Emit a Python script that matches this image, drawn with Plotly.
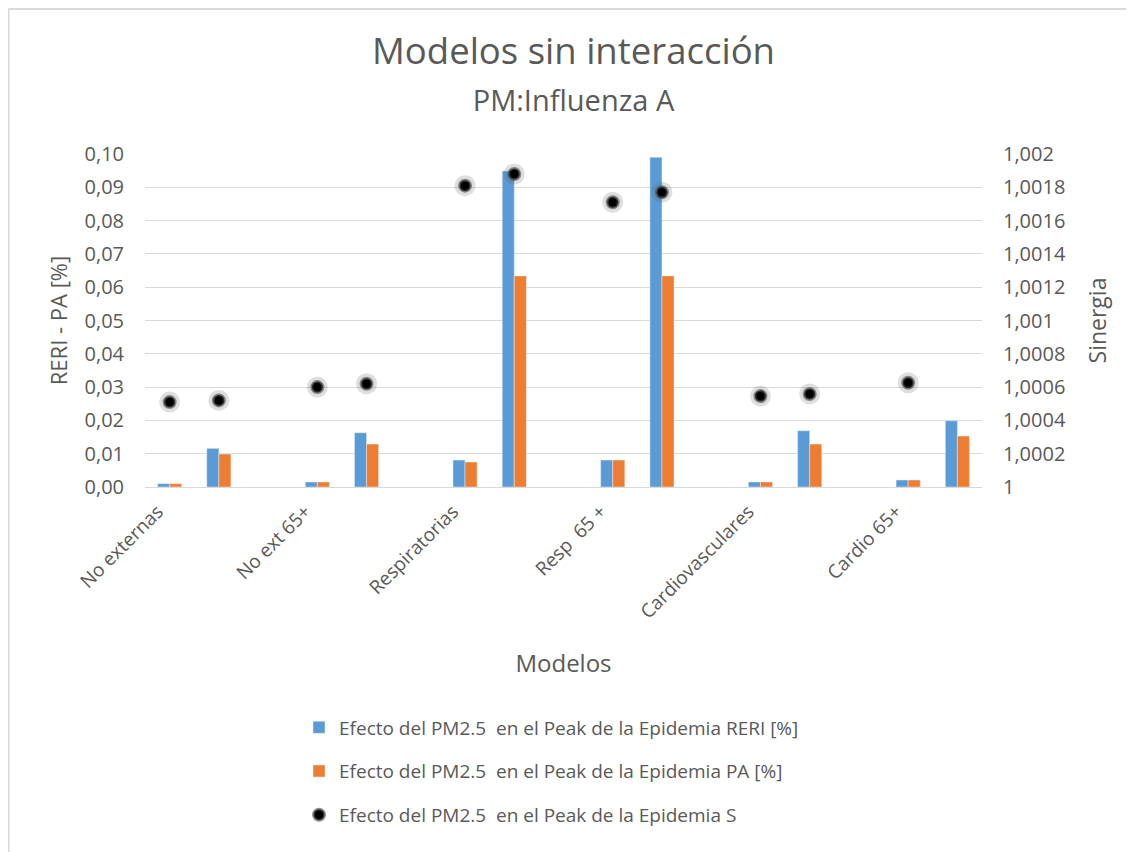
import plotly.graph_objects as go

# ---- data ----
models = ["No externas", "No ext 65+", "Respiratorias", "Resp  65 +", "Cardiovasculares", "Cardio 65+"]
# 17 slots: for each model two bars (first, second) and an empty spacer slot
reri = [0.0010, 0.0116, None, 0.0015, 0.0163, None, 0.0081, 0.0949, None,
        0.0081, 0.0990, None, 0.0015, 0.0169, None, 0.0021, 0.0199]
pa = [0.0010, 0.0099, None, 0.0015, 0.0129, None, 0.0075, 0.0634, None,
      0.0081, 0.0634, None, 0.0015, 0.0129, None, 0.0021, 0.0153]
sinergia = [1.00051, 1.00052, None, 1.00060, 1.00062, None, 1.00181, 1.00188, None,
            1.00171, 1.00177, None, 1.000546, 1.000559, None, 1.000626, None]
left_ticks = [0.00, 0.01, 0.02, 0.03, 0.04, 0.05, 0.06, 0.07, 0.08, 0.09, 0.10]
right_tickvals = [1, 1.0002, 1.0004, 1.0006, 1.0008, 1.001, 1.0012, 1.0014, 1.0016, 1.0018, 1.002]
right_ticktext = ["1", "1,0002", "1,0004", "1,0006", "1,0008", "1,001", "1,0012", "1,0014", "1,0016", "1,0018", "1,002"]

labels = [
    "Efecto del PM2.5  en el Peak de la Epidemia RERI [%]",
    "Efecto del PM2.5  en el Peak de la Epidemia PA [%]",
    "Efecto del PM2.5  en el Peak de la Epidemia S",
]

slots = list(range(len(reri)))
tick_slots = slots[::3]

FONT = "Open Sans"
GREY = "#595959"

fig = go.Figure()
fig.add_trace(go.Bar(x=slots, y=reri, name=labels[0], marker_color="#5B9BD5",
                     legendgroup="a"))
fig.add_trace(go.Bar(x=slots, y=pa, name=labels[1], marker_color="#ED7D31",
                     legendgroup="b"))
# soft glow under the dots
fig.add_trace(go.Scatter(x=slots, y=sinergia, mode="markers", yaxis="y2",
                         marker=dict(size=21, color="rgba(90,90,90,0.2)", line=dict(width=0)),
                         showlegend=False, legendgroup="c", hoverinfo="skip"))
fig.add_trace(go.Scatter(x=slots, y=sinergia, mode="markers", yaxis="y2", name=labels[2],
                         marker=dict(size=11, color="black",
                                     line=dict(width=3, color="rgba(70,70,70,0.6)")),
                         legendgroup="c"))

W, H = 1126, 844  # page adds an 8px body margin
L, R, T, B = 137, 152, 146, 365
PW, PH = W - L - R, H - T - B

fig.update_layout(
    width=W, height=H,
    paper_bgcolor="white", plot_bgcolor="white",
    separators=",.",
    margin=dict(l=L, r=R, t=T, b=B),
    font=dict(family=FONT, color=GREY, size=19),
    barmode="group", bargap=0.51, bargroupgap=0,
    title=dict(
        text="Modelos sin interacción<br><span style='font-size:29px'>PM:Influenza A</span>",
        x=(L + PW / 2 + 10) / W, xanchor="center", y=0.934, yanchor="top",
        font=dict(family=FONT, size=36.5, color=GREY),
    ),
    xaxis=dict(
        range=[-0.5, len(slots) - 0.5],
        tickvals=tick_slots, ticktext=models, tickangle=-45,
        tickfont=dict(size=19, color=GREY),
        ticklabelshift=-12, ticklabelstandoff=5,
        showgrid=False, showline=True, linecolor="#d9d9d9", linewidth=1,
        ticks="", zeroline=False,
        title=dict(text="Modelos", font=dict(size=24, color=GREY), standoff=32),
    ),
    yaxis=dict(
        range=[0, 0.10], tickvals=left_ticks, tickformat=".2f",
        showgrid=True, gridcolor="#d9d9d9", gridwidth=1, zeroline=False,
        tickfont=dict(size=20, color=GREY), ticks="", ticklabelstandoff=20,
        title=dict(text="RERI - PA [%]", font=dict(size=22, color=GREY), standoff=10),
    ),
    yaxis2=dict(
        range=[1, 1.002], overlaying="y", side="right",
        tickvals=right_tickvals, ticktext=right_ticktext,
        showgrid=False, zeroline=False,
        tickfont=dict(size=20, color=GREY), ticks="", ticklabelstandoff=20,
        title=dict(text="Sinergia", font=dict(size=23, color=GREY), standoff=24),
    ),
    legend=dict(
        orientation="v", x=0.184, xanchor="left", y=-0.665, yanchor="top",
        font=dict(size=19, color=GREY), tracegroupgap=16,
        bgcolor="rgba(0,0,0,0)",
    ),
    shapes=[
        dict(type="line", xref="paper", yref="paper",
             x0=(0.5 - L) / PW, x1=(0.5 - L) / PW, y0=1 + (T - 0.5) / PH, y1=-B / PH,
             line=dict(color="#d9d9d9", width=2)),
        dict(type="line", xref="paper", yref="paper",
             x0=(0.5 - L) / PW, x1=(W - L) / PW, y0=1 + (T - 1) / PH, y1=1 + (T - 1) / PH,
             line=dict(color="#d9d9d9", width=2)),
    ],
)

fig.write_html("out.html")
